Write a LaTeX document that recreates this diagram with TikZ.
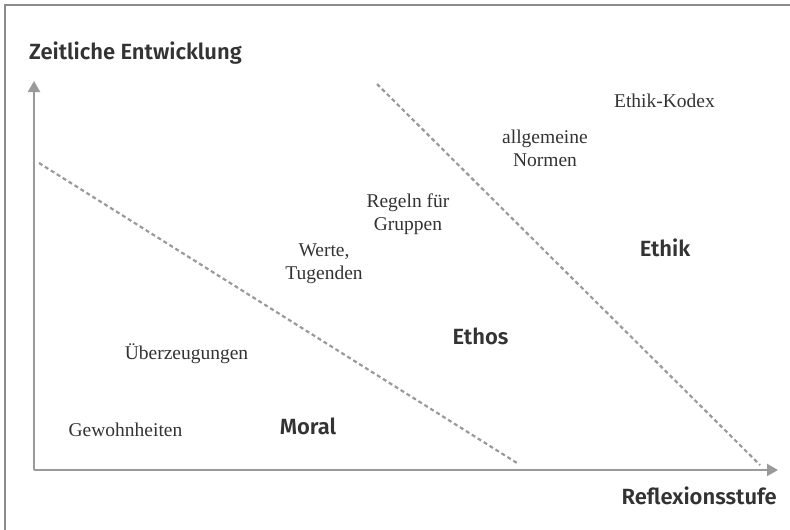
\documentclass[tikz,border=0pt]{standalone}
\usepackage{fontspec}
\setmainfont{Liberation Serif}
\newfontfamily\headfont{Fira Sans}[BoldFont={Fira Sans SemiBold}]
\usetikzlibrary{arrows.meta}

\definecolor{axisgray}{HTML}{9A9A9A}
\definecolor{framegray}{HTML}{8C8C8C}
\definecolor{textgray}{HTML}{333333}

\tikzset{
	stage/.style={font=\headfont\bfseries\fontsize{22}{26}\selectfont,text=textgray,inner sep=0pt},
	item/.style={font=\fontsize{19.5}{23}\selectfont,text=textgray,align=center,inner sep=0pt},
	axis/.style={axisgray,line width=2.2pt,-{Triangle[length=11pt,width=12pt]}},
	border/.style={dash pattern=on 4pt off 3pt,axisgray,line width=2.2pt}
}

\begin{document}
\begin{tikzpicture}[x=1pt,y=-1pt]
	\useasboundingbox (0,0) rectangle (790,530);
	\draw[framegray,line width=1.4pt] (5,530) -- (5,5) -- (790,5);

	\coordinate (Origin)   at (34,470);
	\coordinate (TimeMax)  at (34,81);
	\coordinate (ReflMax)  at (778,470);

	\coordinate (MoralTop) at (39,163);
	\coordinate (MoralEnd) at (517,463);
	\coordinate (EthosTop) at (377,84);
	\coordinate (EthosEnd) at (760,465);

	\draw [axis] (Origin) -- (TimeMax);
	\draw [axis] (Origin) -- (ReflMax);

	\draw [border] (MoralTop) -- (MoralEnd);
	\draw [border] (EthosTop) -- (EthosEnd);

	\node[stage,anchor=base west] (time) at (29,59) {Zeitliche Entwicklung};
	\node[stage,anchor=base east] (refl) at (777,504) {Reflexionsstufe};

	\node[stage,anchor=base] (moral) at (308,434) {Moral};
	\node[stage,anchor=base] (ethos) at (480.5,344) {Ethos};
	\node[stage,anchor=base] (ethik) at (665,256) {Ethik};

	\node[item,anchor=base] (habits)  at (125.5,436) {Gewohnheiten};
	\node[item,anchor=base] (beliefs) at (186.5,359) {Überzeugungen};
	\node[item] (values)  at (324,264) {Werte,\\Tugenden};
	\node[item] (rules)   at (408,214) {Regeln für\\Gruppen};
	\node[item] (norms)   at (545,148.6) {allgemeine\\Normen};
	\node[item,anchor=base] (codex) at (664.5,107) {Ethik-Kodex};
\end{tikzpicture}
\end{document}
